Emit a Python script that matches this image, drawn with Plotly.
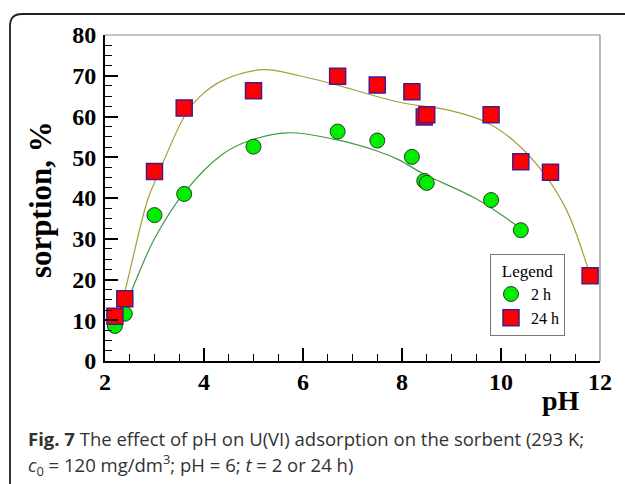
import plotly.graph_objects as go

# ---- data ----
ph_2h = [2.2, 2.4, 3.0, 3.6, 5.0, 6.7, 7.5, 8.2, 8.45, 8.5, 9.8, 10.4]
sorp_2h = [8.6, 11.6, 35.8, 41.0, 52.6, 56.3, 54.1, 50.1, 44.2, 43.7, 39.5, 32.1]

ph_24h = [2.2, 2.4, 3.0, 3.6, 5.0, 6.7, 7.5, 8.2, 8.45, 8.5, 9.8, 10.4, 11.0, 11.8]
sorp_24h = [11.0, 15.3, 46.5, 62.1, 66.3, 69.9, 67.7, 66.1, 59.9, 60.4, 60.4, 48.9, 46.3, 20.9]

# fitted curves
fit2_x = [2.2, 2.4, 2.62, 3.0, 3.6, 4.38, 4.93, 5.7, 6.6, 7.48, 7.95, 8.42, 9.5, 10.4]
fit2_y = [8.5, 13.0, 19.7, 30.0, 41.3, 50.8, 54.1, 56.0, 54.5, 51.6, 49.3, 46.0, 39.8, 32.5]

fit24_x = [2.18, 2.4, 2.86, 3.05, 3.63, 3.9, 4.37, 5.2, 5.93, 6.6, 7.95, 8.96, 9.7, 10.25, 10.85, 11.33, 11.8]
fit24_y = [7.0, 17.0, 39.5, 45.2, 60.6, 64.7, 68.8, 71.5, 70.0, 68.0, 63.5, 61.5, 58.6, 54.1, 46.3, 36.9, 21.0]

x_ticks = [2, 4, 6, 8, 10, 12]
y_ticks = [0, 10, 20, 30, 40, 50, 60, 70, 80]

W, H = 625, 484
ML, MR, MT, MB = 105, 25, 35, 123
PW, PH = W - ML - MR, H - MT - MB


def px(x):
    return (x - ML) / PW


def py(y):
    return (H - MB - y) / PH


serif = "Liberation Serif"

fig = go.Figure()
fig.add_trace(go.Scatter(x=fit24_x, y=fit24_y, mode="lines",
                         line=dict(color="#a89d3c", width=1.2, shape="spline", smoothing=1.0),
                         showlegend=False, hoverinfo="skip"))
fig.add_trace(go.Scatter(x=fit2_x, y=fit2_y, mode="lines",
                         line=dict(color="#3f9b3f", width=1.2, shape="spline", smoothing=1.0),
                         showlegend=False, hoverinfo="skip"))
fig.add_trace(go.Scatter(x=ph_2h, y=sorp_2h, mode="markers", name="2 h",
                         marker=dict(symbol="circle", size=15, color="#00ee00",
                                     line=dict(color="#2a3a2a", width=1))))
fig.add_trace(go.Scatter(x=ph_24h, y=sorp_24h, mode="markers", name="24 h",
                         marker=dict(symbol="square", size=16, color="#ff0000",
                                     line=dict(color="#4a1a8a", width=1.5))))

axis_font = dict(family=serif, size=24, color="black")

fig.update_layout(
    width=W, height=H,
    margin=dict(l=ML, r=MR, t=MT, b=MB),
    paper_bgcolor="white", plot_bgcolor="white",
    showlegend=True,
    legend=dict(
        x=px(490), y=py(254), xanchor="left", yanchor="top",
        bordercolor="#777777", borderwidth=1, bgcolor="white",
        font=dict(family=serif, size=16, color="black"),
        title=dict(text="Legend", side="top center", font=dict(family=serif, size=17, color="black")),
        itemwidth=30, tracegroupgap=2,
    ),
    xaxis=dict(
        range=[2, 12], tickvals=x_ticks, ticktext=[f"<b>{v}</b>" for v in x_ticks],
        showgrid=False, zeroline=False,
        showline=True, linecolor="black", linewidth=2,
        ticks="inside", ticklen=13, tickwidth=1.5, tickcolor="black",
        tickfont=axis_font, ticklabelstandoff=-2,
        minor=dict(dtick=0.5, ticks="inside", ticklen=7, tickwidth=1.2, tickcolor="black"),
    ),
    yaxis=dict(
        range=[0, 80], tickvals=y_ticks, ticktext=[f"<b>{v}</b>" for v in y_ticks],
        showgrid=False, zeroline=False,
        showline=True, linecolor="black", linewidth=2,
        ticks="inside", ticklen=13, tickwidth=1.5, tickcolor="black",
        tickfont=axis_font, ticklabelstandoff=2,
        minor=dict(dtick=2.5, ticks="inside", ticklen=7, tickwidth=1.2, tickcolor="black"),
    ),
)

# grey top & right frame of plot area
fig.add_shape(type="line", xref="paper", yref="paper", x0=0, x1=1, y0=1, y1=1,
              line=dict(color="#888888", width=1.2))
fig.add_shape(type="line", xref="paper", yref="paper", x0=1, x1=1, y0=0, y1=1,
              line=dict(color="#888888", width=1.2))

# rounded outer figure frame (top-left corner), extends off page
r = 12
path = (f"M {px(10)},{py(H + 5)} L {px(10)},{py(14 + r)} "
        f"Q {px(10)},{py(14)} {px(10 + r)},{py(14)} L {px(W + 5)},{py(14)}")
fig.add_shape(type="path", xref="paper", yref="paper", path=path,
              line=dict(color="#222222", width=1.8))

# axis titles
fig.add_annotation(xref="paper", yref="paper", x=px(40), y=py(200), text="<b>sorption, %</b>",
                   textangle=-90, showarrow=False, xanchor="center", yanchor="middle",
                   font=dict(family=serif, size=31, color="black"))
fig.add_annotation(xref="paper", yref="paper", x=px(561), y=py(400), text="<b>pH</b>",
                   showarrow=False, xanchor="center", yanchor="middle",
                   font=dict(family=serif, size=28, color="black"))

# caption
cap_font = dict(family="Open Sans", size=18.5, color="#333333")
fig.add_annotation(xref="paper", yref="paper", x=px(26), y=py(438), xanchor="left", yanchor="middle",
                   text="<b>Fig. 7</b> The effect of pH on U(VI) adsorption on the sorbent (293 K;",
                   showarrow=False, font=cap_font)
fig.add_annotation(xref="paper", yref="paper", x=px(26), y=py(465), xanchor="left", yanchor="middle",
                   text="<i>c</i><sub>0</sub> = 120 mg/dm<sup>3</sup>; pH = 6; <i>t</i> = 2 or 24 h)",
                   showarrow=False, font=cap_font)

fig.write_html("out.html")
